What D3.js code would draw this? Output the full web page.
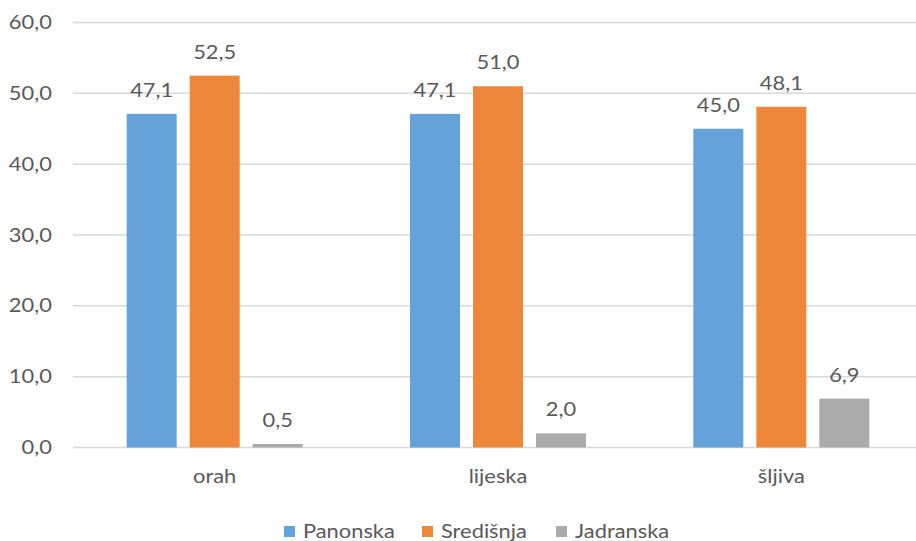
<!DOCTYPE html>
<html>
<head>
<meta charset="utf-8">
<title>Panonska / Središnja / Jadranska</title>
<script src="https://d3js.org/d3.v7.min.js"></script>
<style>
  body { margin: 0; background: #fff; }
  svg text { font-family: Lato, "Open Sans", sans-serif; fill: #595959; }
</style>
</head>
<body>
<div id="chart"></div>
<script>
// Data
const categories = ["orah", "lijeska", "šljiva"];
const seriesNames = ["Panonska", "Središnja", "Jadranska"];
const panonska = [47.1, 47.1, 45.0];
const sredisnja = [52.5, 51.0, 48.1];
const jadranska = [0.5, 2.0, 6.9];
const yTicks = [0, 10, 20, 30, 40, 50, 60];
const colors = ["#64a2d9", "#ef873b", "#ababab"];

const seriesValues = [panonska, sredisnja, jadranska];

const width = 916, height = 541;
const fontSize = 19;
const stretch = "scale(1.15,1)"; // text in the original is a bit wider

const fmt = d => d3.format(".1f")(d).replace(".", ",");

const svg = d3.select("#chart").append("svg")
  .attr("width", width)
  .attr("height", height);

// Scales
const x = d3.scaleBand()
  .domain(categories)
  .range([73, 923]);

const y = d3.scaleLinear()
  .domain([0, 60])
  .range([447.5, 22.5]);

const barW = 50, barGap = 13;
const groupW = barW * 3 + barGap * 2;

// Gridlines
svg.append("g")
  .selectAll("line")
  .data(yTicks)
  .join("line")
  .attr("x1", 73)
  .attr("x2", 923)
  .attr("y1", d => y(d))
  .attr("y2", d => y(d))
  .attr("stroke", "#d9d9d9")
  .attr("stroke-width", 1.5);

// Y axis labels
const yAxis = svg.append("g")
  .attr("transform", "translate(61,0)")
  .call(d3.axisLeft(y).tickValues(yTicks).tickSize(0).tickPadding(0).tickFormat(fmt));
yAxis.select(".domain").remove();
yAxis.selectAll("text")
  .attr("font-size", fontSize)
  .attr("font-family", null)
  .attr("x", -8)
  .attr("transform", stretch)
  .attr("fill", "#595959");

// X axis labels
const xAxis = svg.append("g")
  .attr("transform", "translate(0," + y(0) + ")")
  .call(d3.axisBottom(x).tickSize(0).tickPadding(22));
xAxis.select(".domain").remove();
xAxis.selectAll("text")
  .attr("font-size", fontSize)
  .attr("font-family", null)
  .attr("transform", stretch)
  .attr("fill", "#595959");

// Bars
seriesValues.forEach(function(vals, s) {
  const g = svg.append("g");
  const xs = c => x(c) + (x.bandwidth() - groupW) / 2 + s * (barW + barGap);

  g.selectAll("rect")
    .data(categories)
    .join("rect")
    .attr("x", c => xs(c))
    .attr("width", barW)
    .attr("y", (c, i) => y(vals[i]))
    .attr("height", (c, i) => y(0) - y(vals[i]))
    .attr("fill", colors[s]);

  g.selectAll("text")
    .data(categories)
    .join("text")
    .attr("transform", (c, i) => "translate(" + (xs(c) + barW / 2) + "," + (y(vals[i]) - 17) + ") " + stretch)
    .attr("text-anchor", "middle")
    .attr("font-size", fontSize)
    .text((c, i) => fmt(vals[i]));
});

// Legend
const legendX = [284, 422, 556];
const legend = svg.append("g");
seriesNames.forEach(function(name, i) {
  legend.append("rect")
    .attr("x", legendX[i])
    .attr("y", 526)
    .attr("width", 11)
    .attr("height", 11)
    .attr("fill", colors[i]);
  legend.append("text")
    .attr("transform", "translate(" + (legendX[i] + 19) + ",538) " + stretch)
    .attr("font-size", fontSize)
    .text(name);
});
</script>
</body>
</html>
